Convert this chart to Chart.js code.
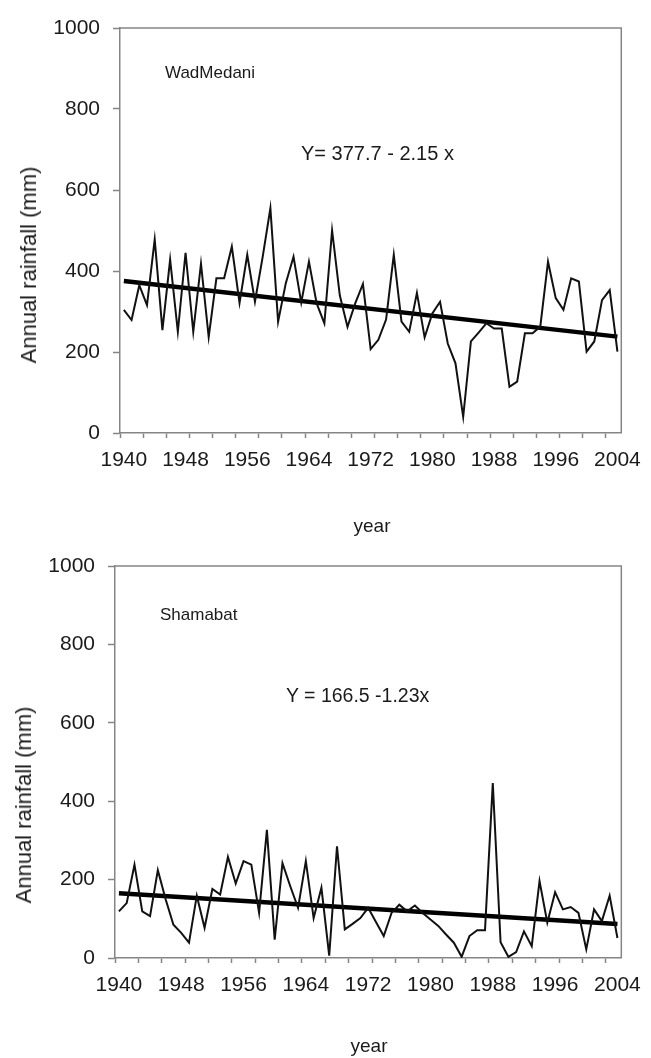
<!DOCTYPE html>
<html><head><meta charset="utf-8">
<script src="https://cdn.jsdelivr.net/npm/chart.js@4.4.0/dist/chart.umd.min.js"></script>
<style>
body{margin:0;background:#fff;}
#page{position:relative;width:651px;height:1058px;overflow:hidden;font-family:"Liberation Sans",Arial,sans-serif;color:#1a1a1a;background:#fff;}
.cv{position:absolute;left:0;}
.t{position:absolute;white-space:nowrap;line-height:1;font-size:20px;}
.s{font-size:17px;}
.c{transform:translateX(-50%);font-size:19px;}
.ytitle{position:absolute;transform:translate(-50%,-50%) rotate(-90deg);white-space:nowrap;font-size:22px;line-height:1;}
</style></head><body>
<div id="page">
<canvas id="c1" class="cv" width="651" height="540" style="top:0;width:651px;height:540px"></canvas>
<canvas id="c2" class="cv" width="651" height="518" style="top:540px;width:651px;height:518px"></canvas>
<div class="ytitle" style="left:29px;top:265px">Annual rainfall (mm)</div>
<div class="ytitle" style="left:24px;top:805px">Annual rainfall (mm)</div>
<div class="t s" style="left:165px;top:64px">WadMedani</div>
<div class="t" style="left:301px;top:143px">Y= 377.7 - 2.15 x</div>
<div class="t c" style="left:372px;top:516px">year</div>
<div class="t s" style="left:160px;top:606px">Shamabat</div>
<div class="t" style="left:286px;top:686px;font-size:19.5px">Y = 166.5 -1.23x</div>
<div class="t c" style="left:369px;top:1036px">year</div>
</div>
<script>
const years = [1940,1941,1942,1943,1944,1945,1946,1947,1948,1949,1950,1951,1952,1953,1954,1955,1956,1957,1958,1959,
  1960,1961,1962,1963,1964,1965,1966,1967,1968,1969,1970,1971,1972,1973,1974,1975,1976,1977,1978,1979,
  1980,1981,1982,1983,1984,1985,1986,1987,1988,1989,1990,1991,1992,1993,1994,1995,1996,1997,1998,1999,
  2000,2001,2002,2003,2004];
const tickYears = [1940,1948,1956,1964,1972,1980,1988,1996,2004];
const yTicks = [0,200,400,600,800,1000];

const wadMedani = [304,279,365,316,478,254,428,250,445,250,418,237,382,382,460,321,440,324,435,555,
  275,370,435,322,423,320,271,500,340,262,320,368,207,230,280,440,275,250,346,236,
  295,324,221,172,40,226,248,271,258,258,114,127,246,246,263,423,333,304,382,374,
  201,226,328,353,201];
const shamabat = [119,140,238,119,107,224,150,85,64,39,159,77,176,162,258,190,247,238,115,327,
  47,242,183,128,247,102,179,6,285,73,87,102,128,92,56,115,136,119,134,115,
  98,82,60,39,3,56,71,71,446,40,3,15,68,30,196,90,168,124,130,115,
  22,124,94,159,51];
const wadTrend = [377.7, -2.15];
const shamTrend = [166.5, -1.23];
const markEvery = 3;

const FONT = '"Liberation Sans", Arial, sans-serif';
const AXIS = '#858585';
const INK = '#1a1a1a';

const frame = {
  id: 'frame',
  afterDraw(chart) {
    const a = chart.chartArea, ctx = chart.ctx;
    ctx.save();
    ctx.strokeStyle = AXIS; ctx.lineWidth = 1.5;
    ctx.beginPath();
    ctx.moveTo(a.left, a.top); ctx.lineTo(a.right, a.top); ctx.lineTo(a.right, a.bottom);
    ctx.stroke();
    ctx.restore();
  }
};

function build(id, series, trend, g) {
  const pts = years.map((y, i) => ({x: y, y: series[i]}));
  const n = years.length;
  const trendPts = [{x: years[0], y: trend[0] + trend[1] * 1}, {x: years[n - 1], y: trend[0] + trend[1] * n}];
  const marks = [];
  for (let k = 0; k < n; k += markEvery) marks.push(years[k] - 0.5);
  const xTicks = marks.concat(tickYears).sort((a, b) => a - b);
  return new Chart(document.getElementById(id), {
    type: 'line',
    data: {datasets: [
      {data: pts, borderColor: '#111', borderWidth: 2, pointRadius: 0, tension: 0, fill: false},
      {data: trendPts, borderColor: '#000', borderWidth: 4.5, pointRadius: 0, tension: 0, fill: false}
    ]},
    options: {
      responsive: false, animation: false, devicePixelRatio: 1,
      layout: {padding: {left: 0, right: g.right, top: g.top, bottom: 0}},
      plugins: {legend: {display: false}, tooltip: {enabled: false}},
      scales: {
        x: {
          type: 'linear', min: years[0] - 0.5, max: years[n - 1] + 0.5,
          afterBuildTicks: s => { s.ticks = xTicks.map(v => ({value: v})); },
          afterFit: s => { s.height = g.xh; },
          ticks: {autoSkip: false, maxRotation: 0, minRotation: 0, padding: 10, color: INK,
            font: {family: FONT, size: 21},
            callback: v => tickYears.includes(v) ? String(v) : ''},
          grid: {drawOnChartArea: false, drawTicks: true, tickLength: 5, tickWidth: 1.5,
            tickColor: c => (c.tick && tickYears.includes(c.tick.value)) ? 'rgba(0,0,0,0)' : AXIS},
          border: {display: true, color: AXIS, width: 1.5}
        },
        y: {
          type: 'linear', min: 0, max: 1000,
          afterBuildTicks: s => { s.ticks = yTicks.map(v => ({value: v})); },
          afterFit: s => { s.width = g.yw; },
          ticks: {padding: 13, color: INK, font: {family: FONT, size: 21}, callback: v => String(v)},
          grid: {drawOnChartArea: false, drawTicks: true, tickLength: 7, tickWidth: 1.5, tickColor: AXIS},
          border: {display: true, color: AXIS, width: 1.5}
        }
      }
    },
    plugins: [frame]
  });
}

build('c1', wadMedani, wadTrend, {top: 28, right: 27, yw: 120, xh: 107});
build('c2', shamabat, shamTrend, {top: 26, right: 28, yw: 115, xh: 100});
</script>
</body></html>
